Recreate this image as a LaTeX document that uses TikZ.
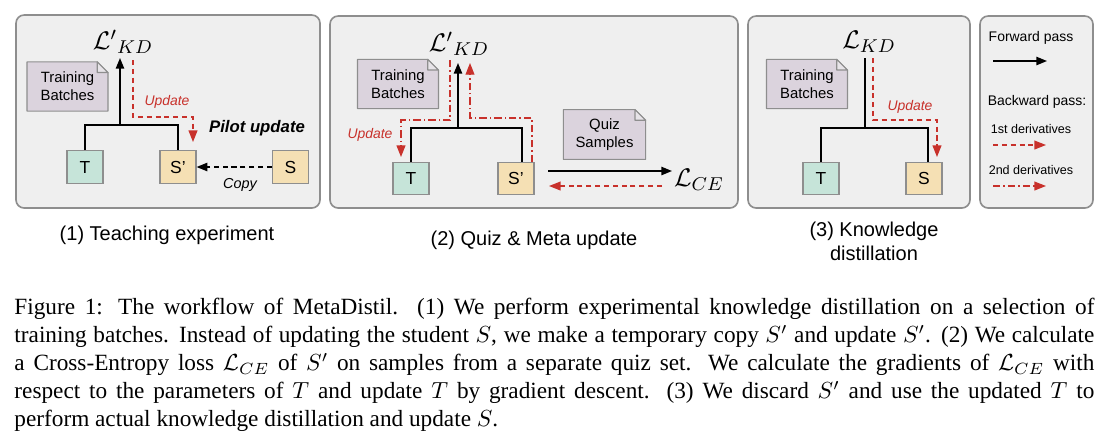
\documentclass[tikz,border=0pt]{standalone}
\usepackage{fontspec}
\setmainfont{Liberation Sans}
\newfontfamily\policeLegende{Liberation Serif}
\usepackage{xcolor}
\definecolor{mdRouge}{HTML}{C8312B}
\definecolor{mdGrisFond}{HTML}{EFEFEF}
\definecolor{mdGrisTrait}{HTML}{8E8E8E}
\definecolor{mdMenthe}{HTML}{C6E4D9}
\definecolor{mdSable}{HTML}{F5E0B4}
\definecolor{mdMauve}{HTML}{DBD3DD}
\usepackage{tikz}
\usetikzlibrary{arrows.meta, positioning, calc}
\newcommand{\SansCoupure}{\hyphenpenalty=10000\exhyphenpenalty=10000\relax}
\tikzset{
  %% ── Fonds ────────────────────────────────────────────────────────────
  panneau/.style    = {draw=mdGrisTrait, fill=mdGrisFond, rounded corners=3.5pt,
                       line width=0.7pt},
  %%
  %% ── Boites ───────────────────────────────────────────────────────────
  boite/.style      = {draw=mdGrisTrait, line width=0.5pt, inner sep=0pt,
                       minimum width=15.5pt, minimum height=14pt,
                       font=\fontsize{7.5}{9}\selectfont},
  boiteProf/.style  = {boite, fill=mdMenthe},
  boiteEleve/.style = {boite, fill=mdSable},
  feuille/.style    = {fill=mdMauve, inner sep=0pt, align=center,
                       minimum width=34.4pt, minimum height=20.8pt,
                       font=\fontsize{6.4}{7.6}\selectfont},
  %%
  %% ── Fleches ──────────────────────────────────────────────────────────
  trait/.style      = {draw=black, line width=0.7pt},
  fleche/.style     = {trait, -{Triangle[length=4.6pt, width=3.6pt]}},
  flecheCopie/.style = {trait, line width=0.55pt, dash pattern=on 2.2pt off 1.6pt,
                       -{Triangle[length=4.6pt, width=3.6pt]}},
  flecheMaj/.style  = {draw=mdRouge, line width=0.55pt,
                       dash pattern=on 2.2pt off 1.6pt,
                       -{Triangle[length=5pt, width=3.8pt, fill=mdRouge]}},
  flecheMeta/.style = {draw=mdRouge, line width=0.55pt,
                       dash pattern=on 3.2pt off 1.3pt on 0.6pt off 1.3pt,
                       -{Triangle[length=5pt, width=3.8pt, fill=mdRouge]}},
  %%
  %% ── Textes ───────────────────────────────────────────────────────────
  perte/.style      = {inner sep=1pt, font=\fontsize{11}{13}\selectfont},
  etiquette/.style  = {inner sep=1pt, text=mdRouge,
                       font=\fontsize{6}{7}\selectfont\itshape},
  titrePanneau/.style = {align=center, font=\fontsize{8.6}{10.4}\selectfont},
  petitTexte/.style = {inner sep=1pt, font=\fontsize{6}{7}\selectfont},
}

\begin{document}
\begin{tikzpicture}[x=0.43pt, y=-0.43pt]
\useasboundingbox (0,0) rectangle (1106,443);

%% panneaux
\draw[panneau] (16,15) rectangle (320,208);
\draw[panneau] (330,16) rectangle (738,208);
\draw[panneau] (748,16) rectangle (970,208);
\draw[panneau] (980,16) rectangle (1093,208);

%% (1) experience d'enseignement
\node[perte] (lkdA) at (123,42) {$\mathcal{L}'{}_{KD}$};
\node[feuille] (tbA) at (67.5,86.5) {Training\\Batches};
\node[boiteProf] (tA) at (85,167) {T};
\node[boiteEleve] (spA) at (178,167) {S'};
\node[boiteEleve] (sA) at (290.5,167) {S};
\coordinate (jA) at (120,125);
\coordinate (hA) at (120,58);
\draw[trait] (tA.north) |- (jA) -| (spA.north);
\draw[fleche] (jA) -- (hA);
\coordinate (uA0) at (133,60);
\coordinate (uA1) at (193,142);
\draw[flecheMaj] (uA0) |- (163,117) -| (uA1);
\node[etiquette] (majA) at (167,102) {Update};
\node[font=\fontsize{7.2}{8.6}\selectfont\bfseries\itshape] (pilote) at (257,128)
     {Pilot update};
\draw[flecheCopie] (sA) -- (spA);
\node[petitTexte, font=\fontsize{6.2}{7.4}\selectfont\itshape] (copie) at (240,185) {Copy};
\node[titrePanneau] (titreA) at (167,235) {(1) Teaching experiment};

%% (2) quiz et meta-mise a jour
\node[perte] (lkdB) at (459,44) {$\mathcal{L}'{}_{KD}$};
\node[feuille] (tbB) at (398,84) {Training\\Batches};
\node[feuille, minimum width=35pt, minimum height=21pt] (quiz) at (604.5,134.5)
     {Quiz\\Samples};
\node[boiteProf] (tB) at (411,178.5) {T};
\node[boiteEleve] (spB) at (516,178.5) {S'};
\node[perte] (lce) at (699,180) {$\mathcal{L}_{CE}$};
\coordinate (jB) at (458,128);
\coordinate (hB) at (458,63);
\draw[trait] (tB.north) |- (jB) -| ([xshift=6*0.43pt]spB.north);
\draw[fleche] (jB) -- (hB);
\coordinate (mB0) at (450,60);
\coordinate (mB1) at (401,157);
\draw[flecheMeta] (mB0) |- (420,120) -| (mB1);
\coordinate (mB2) at (532,162);
\coordinate (mB3) at (470,63);
\draw[flecheMeta] (mB2) |- (500,118) -| (mB3);
\node[etiquette] (majB) at (370,135) {Update};
\coordinate (ceA) at (548,171);
\coordinate (ceB) at (672,171);
\draw[fleche] (ceA) -- (ceB);
\coordinate (ceC) at (662,186);
\coordinate (ceD) at (549,186);
\draw[flecheMaj] (ceC) -- (ceD);
\node[titrePanneau] (titreB) at (534,240) {(2) Quiz \& Meta update};

%% (3) distillation
\node[perte] (lkdC) at (869,42) {$\mathcal{L}_{KD}$};
\node[feuille] (tbC) at (807,84) {Training\\Batches};
\node[boiteProf] (tC) at (821,178.5) {T};
\node[boiteEleve] (sC) at (924,178.5) {S};
\coordinate (jC) at (865,128);
\coordinate (hC) at (865,58);
\draw[trait] (tC.north) |- (jC) -| ([xshift=4*0.43pt]sC.north);
\draw[trait] (jC) -- (hC);
\coordinate (uC0) at (873,58);
\coordinate (uC1) at (937,157);
\draw[flecheMaj] (uC0) |- (900,120) -| (uC1);
\node[etiquette] (majC) at (910,107) {Update};
\node[titrePanneau] (titreC) at (874,241) {(3) Knowledge\\distillation};

%% coins pliés des feuilles
\foreach \f in {tbA, tbB, tbC, quiz} {
  \fill[mdGrisFond] ([xshift=-4.6pt]\f.north east) -- (\f.north east)
       -- ([yshift=-4.6pt]\f.north east) -- cycle;
  \draw[mdGrisTrait, line width=0.5pt, line join=round]
       (\f.north west) -- ([xshift=-4.6pt]\f.north east)
       -- ([yshift=-4.6pt]\f.north east) |- (\f.south west) -- cycle;
  \draw[mdGrisTrait, fill=mdGrisFond!60!mdMauve, line width=0.5pt, line join=round]
       ([xshift=-4.6pt]\f.north east) |- ([yshift=-4.6pt]\f.north east) -- cycle;
}

%% legende des fleches
\node[petitTexte] (avant) at (1031,38) {Forward pass};
\coordinate (avA) at (993,61);
\coordinate (avB) at (1047,61);
\draw[fleche] (avA) -- (avB);
\node[petitTexte] (arriere) at (1037,102) {Backward pass:};
\node[petitTexte, font=\fontsize{5.4}{6.4}\selectfont] (ordre1) at (1031,129)
     {1st derivatives};
\coordinate (o1A) at (993,145);
\coordinate (o1B) at (1046,145);
\draw[flecheMaj] (o1A) -- (o1B);
\node[petitTexte, font=\fontsize{5.4}{6.4}\selectfont] (ordre2) at (1031,170)
     {2nd derivatives};
\coordinate (o2A) at (993,186);
\coordinate (o2B) at (1046,186);
\draw[flecheMeta] (o2A) -- (o2B);

%% legende de la figure
\node[anchor=north west, inner sep=0pt, text width=1080*0.43pt, align=justify,
      font=\policeLegende\fontsize{10}{12}\selectfont,
      execute at begin node=\SansCoupure] (legende) at (14,298)
     {Figure 1: The workflow of MetaDistil.  (1) We perform experimental knowledge
      distillation on a selection of\linebreak
      training batches. Instead of updating the student $S$, we make a temporary copy
      $S'$ and update $S'$. (2) We calculate\linebreak
      a Cross-Entropy loss $\mathcal{L}_{CE}$ of $S'$ on samples from a separate quiz
      set.  We calculate the gradients of $\mathcal{L}_{CE}$ with\linebreak
      respect to the parameters of $T$ and update $T$ by gradient descent.  (3) We
      discard $S'$ and use the updated $T$ to\linebreak
      perform actual knowledge distillation and update $S$.};

\end{tikzpicture}
\end{document}
